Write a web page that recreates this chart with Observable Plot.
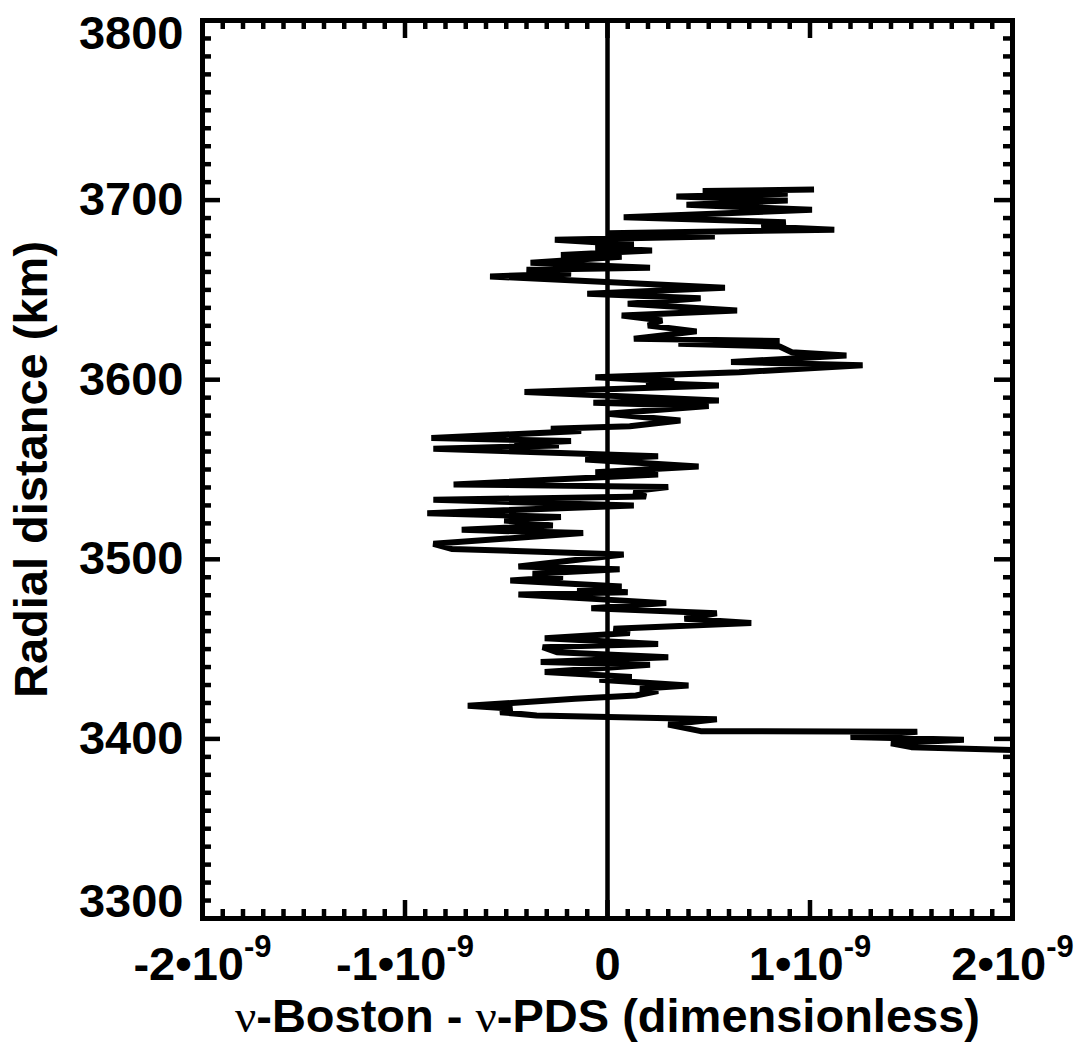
<!DOCTYPE html>
<html><head><meta charset="utf-8">
<script src="https://cdn.jsdelivr.net/npm/d3@7"></script>
<script src="https://cdn.jsdelivr.net/npm/@observablehq/plot@0.6"></script>
<style>
body{margin:0;background:#fff;}
#chart{width:1078px;height:1046px;}
</style></head>
<body><div id="chart"></div>
<script>
// Radial distance (km) of each vertex of the profile, top to bottom
const radiusKm = [
 3705.9,3705.0,3703.5,3702.0,3699.8,3697.4,3694.6,3690.5,3687.7,3685.3,
 3683.5,3681.6,3679.8,3677.9,3675.3,3673.4,3672.0,3669.5,3668.5,3665.1,
 3662.3,3661.2,3659.0,3657.5,3651.2,3647.8,3645.4,3642.3,3638.5,3635.8,
 3633.0,3630.2,3626.9,3622.8,3621.5,3620.0,3618.5,3615.3,3613.5,3609.9,
 3608.0,3604.2,3601.4,3599.2,3598.1,3596.8,3593.1,3588.4,3587.1,3585.3,
 3581.0,3577.3,3574.1,3572.7,3571.4,3567.6,3565.8,3564.4,3563.4,3561.5,
 3557.4,3555.6,3551.7,3548.5,3547.2,3541.7,3540.2,3538.0,3535.0,3533.1,
 3530.0,3525.7,3523.5,3521.6,3518.8,3516.4,3514.6,3508.6,3505.8,3502.7,
 3496.0,3494.5,3491.9,3490.1,3488.2,3484.9,3483.5,3481.7,3480.4,3475.6,
 3472.8,3470.0,3466.9,3464.5,3461.3,3458.9,3456.1,3452.9,3451.1,3448.3,
 3445.5,3442.8,3441.3,3437.2,3434.4,3432.9,3429.7,3427.9,3426.6,3424.2,
 3422.3,3418.4,3416.8,3414.9,3413.0,3411.0,3408.0,3404.3,3404.0,3401.0,
 3399.5,3397.6,3395.4,3393.5
];
// nu-Boston - nu-PDS, in units of 1e-9
const diffE9 = [
 1.02,0.47,0.89,0.34,0.89,0.39,1.01,0.08,0.88,0.76,
 1.12,0.00,0.53,-0.26,0.13,-0.06,0.22,-0.23,0.07,-0.38,
 0.21,-0.40,-0.18,-0.58,0.58,-0.10,0.46,0.10,0.64,0.07,
 0.27,0.20,0.44,0.13,0.85,0.35,0.85,0.91,1.18,0.61,
 1.26,0.65,-0.06,0.33,0.19,0.55,-0.41,0.55,-0.07,0.50,
 0.00,0.36,0.11,-0.28,-0.13,-0.87,-0.18,-0.46,-0.24,-0.86,
 0.25,-0.11,0.45,-0.06,0.25,-0.76,0.30,0.13,0.19,-0.86,
 0.13,-0.89,-0.23,-0.51,-0.27,-0.72,-0.12,-0.86,-0.77,0.08,
 -0.44,0.06,-0.37,-0.22,-0.48,0.07,-0.15,0.10,-0.44,0.29,
 -0.08,0.54,0.38,0.71,0.03,0.11,-0.31,0.25,-0.32,-0.25,
 0.30,-0.33,0.21,-0.31,0.12,-0.04,0.40,0.16,0.25,0.14,
 -0.16,-0.69,-0.47,-0.53,-0.35,0.54,0.30,0.46,1.53,1.20,
 1.76,1.40,1.50,2.10
];
const xTickValues = [-2,-1,0,1,2];
const xTickLabels = ["-2•10^-9","-1•10^-9","0","1•10^-9","2•10^-9"];
const yTickValues = [3300,3400,3500,3600,3700,3800];
const xMinorStep = 0.1;
const yMinorStep = 10;
const xTitle = "ν-Boston - ν-PDS (dimensionless)";
const yTitle = "Radial distance (km)";

const profile = radiusKm.map((r,i)=>({r, d: diffE9[i]}));

const W = 1078, H = 1046;
const mL = 202, mR = 66, mT = 20, mB = 128;
const iW = W - mL - mR, iH = H - mT - mB;
const FONT = "'Liberation Sans', Arial, Helvetica, sans-serif";

const xMinor = d3.range(-2, 2.0001, xMinorStep).map(v=>+v.toFixed(2)).filter(v=>Math.abs(v)<1.999 && Math.abs(v - Math.round(v))>1e-6);
const xMajorInner = xTickValues.filter(v=>Math.abs(v)<2);
const yMinor = d3.range(3300, 3800.001, yMinorStep).filter(v=>v>3300 && v<3800 && v%100!==0);
const yMajorInner = yTickValues.filter(v=>v>3300 && v<3800);

const minorLen = 9, majorLen = 18, tickW = 4.5;
const labelMap = new Map(xTickValues.map((v,i)=>[v, xTickLabels[i]]));
const FS = 47;
const txt = {fontSize: FS, fontWeight: "bold", fill: "black"};

const chart = Plot.plot({
  width: W, height: H,
  marginLeft: mL, marginRight: mR, marginTop: mT, marginBottom: mB,
  x: {domain: [-2, 2], axis: null},
  y: {domain: [3300, 3800], axis: null},
  style: {fontFamily: FONT, background: "white", color: "black"},
  marks: [
    Plot.ruleX([0], {stroke: "black", strokeWidth: 4.5}),
    Plot.line(profile, {x: "d", y: "r", stroke: "black", strokeWidth: 6, strokeLinejoin: "bevel", strokeLinecap: "butt", clip: true}),
    Plot.tickX(xMinor, {x: d=>d, insetTop: iH - minorLen, stroke: "black", strokeWidth: tickW}),
    Plot.tickX(xMinor, {x: d=>d, insetBottom: iH - minorLen, stroke: "black", strokeWidth: tickW}),
    Plot.tickY(yMinor, {y: d=>d, insetRight: iW - minorLen, stroke: "black", strokeWidth: tickW}),
    Plot.tickY(yMinor, {y: d=>d, insetLeft: iW - minorLen, stroke: "black", strokeWidth: tickW}),
    Plot.tickX(xMajorInner, {x: d=>d, insetTop: iH - majorLen, stroke: "black", strokeWidth: tickW}),
    Plot.tickX(xMajorInner, {x: d=>d, insetBottom: iH - majorLen, stroke: "black", strokeWidth: tickW}),
    Plot.tickY(yMajorInner, {y: d=>d, insetRight: iW - majorLen, stroke: "black", strokeWidth: tickW}),
    Plot.tickY(yMajorInner, {y: d=>d, insetLeft: iW - majorLen, stroke: "black", strokeWidth: tickW}),
    Plot.frame({stroke: "black", strokeWidth: 5}),
    // y tick labels
    Plot.text(yMajorInner, {y: d=>d, text: d=>String(d), frameAnchor: "left", textAnchor: "end", lineAnchor: "middle", dx: -19, ...txt}),
    Plot.text([3800], {y: d=>d, text: d=>String(d), frameAnchor: "left", textAnchor: "end", lineAnchor: "middle", dx: -19, dy: 13, ...txt}),
    Plot.text([3300], {y: d=>d, text: d=>String(d), frameAnchor: "left", textAnchor: "end", lineAnchor: "middle", dx: -19, dy: -17, ...txt}),
    // x tick labels
    Plot.text(xTickValues, {x: d=>d, text: d=>labelMap.get(d), frameAnchor: "bottom", textAnchor: "middle", lineAnchor: "middle", dy: 46, ...txt}),
    // axis titles
    Plot.text([xTitle], {text: d=>d, frameAnchor: "bottom", textAnchor: "middle", lineAnchor: "middle", dy: 98, ...txt}),
    Plot.text([yTitle], {text: d=>d, frameAnchor: "left", textAnchor: "middle", lineAnchor: "middle", rotate: -90, dx: -171, ...txt})
  ]
});

// superscripts in x tick labels, Greek nu in serif
d3.select(chart).selectAll("text").each(function(){
  const t = this.textContent;
  const sel = d3.select(this);
  if (t.includes("^")) {
    const parts = t.split("^");
    sel.text(null);
    sel.append("tspan").text(parts[0]);
    sel.append("tspan").attr("font-size", 31).attr("dy", "-23").text(parts[1]);
  } else if (t.includes("ν")) {
    sel.text(null);
    t.split(/(ν)/).forEach(p=>{
      if (!p) return;
      const ts = sel.append("tspan").text(p);
      if (p === "ν") ts.attr("font-family", "'Liberation Serif', 'Times New Roman', serif").attr("font-weight", "normal");
    });
  }
});

document.getElementById("chart").appendChild(chart);
</script>
</body></html>
